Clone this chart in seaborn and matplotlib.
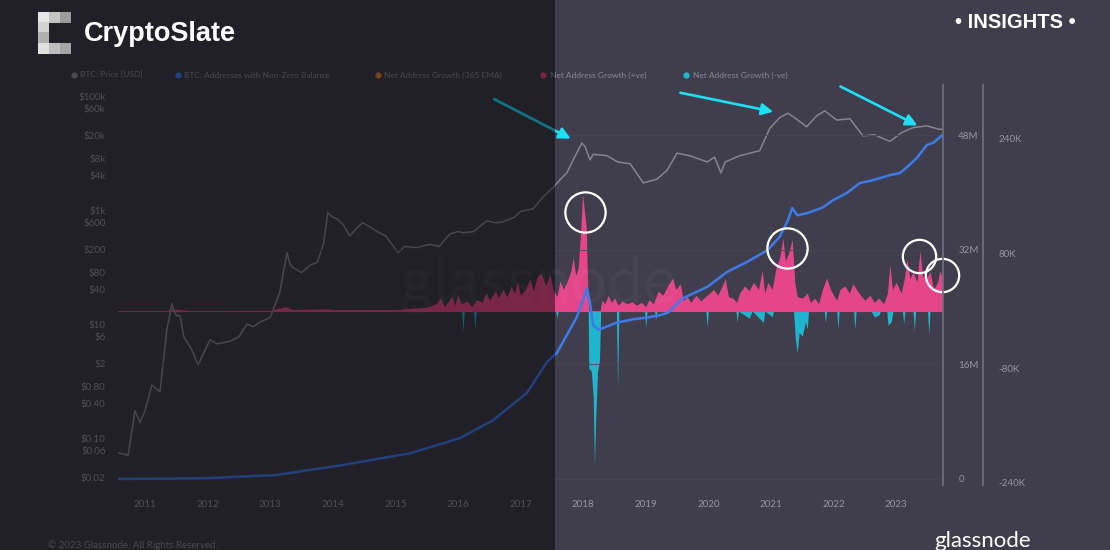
import numpy as np
import pandas as pd
import matplotlib.pyplot as plt
import seaborn as sns
from matplotlib.patches import Rectangle
from matplotlib.lines import Line2D
from matplotlib.ticker import NullLocator

# BTC price in USD (decimal year, price)
price_year = [2010.57, 2010.73, 2010.84, 2010.92, 2011.0, 2011.11, 2011.24, 2011.35, 2011.43, 2011.47,
              2011.51, 2011.56, 2011.62, 2011.75, 2011.85, 2011.93, 2012.04, 2012.15, 2012.36, 2012.5,
              2012.63, 2012.73, 2012.85, 2013.0, 2013.15, 2013.27, 2013.31, 2013.35, 2013.5, 2013.65,
              2013.75, 2013.85, 2013.92, 2014.0, 2014.07, 2014.17, 2014.27, 2014.38, 2014.48, 2014.6,
              2014.71, 2014.85, 2015.04, 2015.15, 2015.34, 2015.55, 2015.7, 2015.87, 2016.0, 2016.08,
              2016.25, 2016.46, 2016.6, 2016.72, 2016.9, 2017.0, 2017.1, 2017.2, 2017.36, 2017.52,
              2017.63, 2017.74, 2017.84, 2017.98, 2018.03, 2018.11, 2018.16, 2018.38, 2018.55, 2018.75,
              2018.96, 2019.18, 2019.34, 2019.5, 2019.7, 2019.98, 2020.1, 2020.2, 2020.27, 2020.5,
              2020.82, 2020.98, 2021.14, 2021.27, 2021.4, 2021.57, 2021.73, 2021.86, 2022.05, 2022.26,
              2022.47, 2022.65, 2022.9, 2023.09, 2023.27, 2023.49, 2023.7, 2023.74]
price_usd = [0.055, 0.05, 0.30, 0.19, 0.30, 0.85, 0.65, 8, 23, 16,
             14, 14, 6, 3.5, 1.9, 3, 5.3, 4.5, 5, 6,
             10, 9, 11, 13, 35, 180, 120, 100, 80, 110,
             120, 250, 900, 750, 700, 550, 350, 480, 600, 500,
             420, 350, 180, 230, 220, 250, 230, 380, 420, 400,
             420, 650, 600, 620, 750, 950, 1000, 1050, 1700, 2500,
             3400, 4500, 7600, 15000, 13000, 7600, 9500, 9000, 7000, 6500,
             3000, 3500, 5000, 10000, 9000, 7000, 8500, 4500, 7000, 9000,
             11000, 27000, 42000, 50000, 40000, 29000, 45000, 55000, 38000, 40000,
             20000, 21000, 16000, 23000, 28000, 30000, 26000, 26500]

# BTC addresses with non-zero balance, millions
addr_year = [2010.57, 2011.5, 2012.04, 2013.1, 2014.16, 2015.24, 2016.03, 2016.56, 2017.1, 2017.31,
             2017.42, 2017.58, 2017.9, 2018.06, 2018.11, 2018.16, 2018.24, 2018.53, 2018.8, 2019.0,
             2019.2, 2019.35, 2019.59, 2019.98, 2020.3, 2020.62, 2020.94, 2021.14, 2021.27, 2021.34,
             2021.42, 2021.58, 2021.83, 2021.99, 2022.21, 2022.42, 2022.63, 2022.9, 2023.06, 2023.17,
             2023.33, 2023.49, 2023.59, 2023.74]
addr_m = [0, 0.05, 0.14, 0.56, 1.95, 3.6, 5.7, 8.2, 12.0, 14.8,
          16.3, 17.6, 22.6, 26.6, 24.5, 21.5, 20.8, 21.8, 22.3, 22.5,
          22.8, 23.2, 25.2, 26.8, 28.9, 30.3, 31.9, 33.8, 36.1, 37.8,
          36.8, 37.1, 37.9, 38.9, 39.9, 41.3, 41.7, 42.4, 42.7, 43.5,
          44.8, 46.6, 46.9, 48.0]

# Net address growth, positive part (thousands)
pos_year = [2010.57, 2011.35, 2011.4, 2011.55, 2011.7, 2012.0, 2013.0, 2013.25, 2013.35, 2013.9,
            2014.0, 2014.5, 2015.0, 2015.3, 2015.5, 2015.65, 2015.72, 2015.78, 2015.9, 2015.95,
            2016.0, 2016.05, 2016.15, 2016.22, 2016.3, 2016.38, 2016.45, 2016.5, 2016.6, 2016.65,
            2016.72, 2016.78, 2016.85, 2016.9, 2016.95, 2017.0, 2017.08, 2017.15, 2017.2, 2017.27,
            2017.33, 2017.4, 2017.47, 2017.52, 2017.58, 2017.63, 2017.68, 2017.74, 2017.8, 2017.84,
            2017.88, 2017.92, 2017.96, 2017.99, 2018.02, 2018.05, 2018.07, 2018.09, 2018.27, 2018.3,
            2018.35, 2018.4, 2018.45, 2018.5, 2018.56, 2018.62, 2018.7, 2018.78, 2018.85, 2018.93,
            2019.0, 2019.05, 2019.12, 2019.2, 2019.27, 2019.35, 2019.43, 2019.48, 2019.55, 2019.6,
            2019.66, 2019.72, 2019.8, 2019.88, 2019.95, 2020.02, 2020.08, 2020.15, 2020.22, 2020.27,
            2020.32, 2020.39, 2020.45, 2020.5, 2020.58, 2020.65, 2020.72, 2020.8, 2020.86, 2020.9,
            2020.95, 2021.02, 2021.08, 2021.14, 2021.19, 2021.23, 2021.28, 2021.34, 2021.38, 2021.42,
            2021.5, 2021.58, 2021.63, 2021.7, 2021.76, 2021.82, 2021.89, 2021.95, 2022.0, 2022.05,
            2022.1, 2022.18, 2022.25, 2022.31, 2022.38, 2022.45, 2022.5, 2022.58, 2022.65, 2022.72,
            2022.8, 2022.86, 2022.9, 2022.94, 2023.0, 2023.08, 2023.14, 2023.17, 2023.22, 2023.27,
            2023.33, 2023.38, 2023.42, 2023.48, 2023.54, 2023.6, 2023.66, 2023.7, 2023.74]
pos_k = [0, 0, 3, 2, 0.5, 0.5, 1, 6, 2, 3,
         2, 2, 2, 4, 5, 10, 18, 6, 20, 8,
         23, 10, 14, 6, 16, 12, 25, 15, 28, 18,
         30, 20, 35, 25, 40, 22, 30, 45, 28, 48,
         53, 35, 51, 30, 20, 42, 30, 40, 55, 74,
         50, 60, 110, 163, 140, 115, 40, 0, 0, 15,
         10, 22, 12, 18, 8, 14, 10, 13, 8, 12,
         6, 16, 10, 28, 22, 35, 46, 30, 38, 15,
         20, 12, 22, 14, 20, 25, 30, 22, 35, 45,
         20, 18, 12, 25, 35, 28, 40, 30, 56, 25,
         40, 30, 60, 75, 102, 70, 80, 100, 40, 20,
         18, 25, 12, 18, 10, 30, 46, 30, 22, 15,
         30, 35, 25, 38, 28, 20, 15, 22, 12, 18,
         10, 25, 65, 30, 40, 25, 50, 72, 45, 55,
         40, 84, 50, 45, 55, 30, 40, 56, 45]

# Net address growth, negative part (thousands)
neg_year = [2010.57, 2016.06, 2016.08, 2016.1, 2016.25, 2016.27, 2016.29, 2017.56, 2017.58, 2017.6,
            2018.08, 2018.09, 2018.13, 2018.16, 2018.18, 2018.2, 2018.23, 2018.26, 2018.28, 2018.53,
            2018.55, 2018.57, 2018.98, 2019.0, 2019.02, 2019.14, 2019.16, 2019.18, 2019.96, 2019.98,
            2020.0, 2020.44, 2020.46, 2020.48, 2020.65, 2020.7, 2020.88, 2020.9, 2021.02, 2021.04,
            2021.36, 2021.39, 2021.42, 2021.45, 2021.5, 2021.55, 2021.58, 2021.6, 2021.85, 2021.87,
            2021.89, 2022.05, 2022.07, 2022.09, 2022.32, 2022.34, 2022.36, 2022.6, 2022.65, 2022.72,
            2022.75, 2022.85, 2022.87, 2022.92, 2022.95, 2023.1, 2023.12, 2023.14, 2023.27, 2023.29,
            2023.31, 2023.5, 2023.52, 2023.54, 2023.74]
neg_k = [0, 0, -28, 0, 0, -26, 0, 0, -10, 0,
         0, -80, -84, -120, -215, -150, -84, -70, 0, 0,
         -107, 0, 0, -23, 0, 0, -12, 0, 0, -22,
         0, 0, -16, 0, -10, 0, -16, 0, -8, 0,
         0, -40, -58, -30, -35, -15, -25, 0, 0, -16,
         0, 0, -25, 0, 0, -25, 0, 0, -8, -6,
         0, 0, -20, -15, 0, 0, -18, 0, 0, -28,
         0, 0, -33, 0, 0]

# axis ticks
years = list(range(2011, 2024))
price_ticks = [100000, 60000, 20000, 8000, 4000, 1000, 600, 200, 80, 40, 10, 6, 2, 0.8, 0.4, 0.1, 0.06, 0.02]
price_labels = ["$100k", "$60k", "$20k", "$8k", "$4k", "$1k", "$600", "$200", "$80", "$40",
                "$10", "$6", "$2", "$0.80", "$0.40", "$0.10", "$0.06", "$0.02"]
addr_ticks = [0, 16, 32, 48]
addr_labels = ["0", "16M", "32M", "48M"]
growth_ticks = [-240, -80, 80, 240]
growth_labels = ["-240K", "-80K", "80K", "240K"]

# highlight annotations (circles on growth axis, arrows on price axis)
circle_year = [2018.03, 2021.26, 2023.36, 2023.73]
circle_k = [138, 88, 77, 50]
circle_size = [29, 29, 24, 24]
arrow_tail = [(2016.54, 93000), (2019.51, 117000), (2022.07, 155000)]
arrow_head = [(2017.84, 17000), (2021.08, 52000), (2023.38, 29000)]

BG = "#403e4c"
PRICE_C = "#8a8292"
ADDR_C = "#3d7bea"
POS_C = "#e5468a"
NEG_C = "#1fb5cf"
TICK_C = "#9794a3"

sns.set_theme(style="dark", rc={"figure.facecolor": BG, "axes.facecolor": "none"})
plt.rcParams["font.family"] = ["Lato", "DejaVu Sans"]

W, H = 1110, 550
fig = plt.figure(figsize=(W / 100, H / 100), dpi=100)
ax = fig.add_axes([118 / W, 65 / H, 825 / W, 400 / H])
ax2 = ax.twinx()
ax3 = ax.twinx()
ax3.set_zorder(1)
ax.set_zorder(2)
ax2.set_zorder(3)
for a in (ax, ax2, ax3):
    a.patch.set_visible(False)
    for s in a.spines.values():
        s.set_visible(False)

# net address growth
ax3.fill_between(pos_year, 0, pos_k, color=POS_C, linewidth=0)
ax3.fill_between(neg_year, 0, neg_k, color=NEG_C, linewidth=0)
ax3.axhline(0, color=POS_C, lw=0.8)

# price and addresses
price_df = pd.DataFrame({"year": price_year, "price": price_usd})
addr_df = pd.DataFrame({"year": addr_year, "addr": addr_m})
ax.set_yscale("log")
sns.lineplot(data=price_df, x="year", y="price", ax=ax, color=PRICE_C, linewidth=1.1)
sns.lineplot(data=addr_df, x="year", y="addr", ax=ax2, color=ADDR_C, linewidth=1.8)

ax.set_xlim(2010.569, 2023.748)
ax.set_ylim(0.01503, 156500)
ax2.set_ylim(-0.84, 54.98)
ax3.set_ylim(-242.8, 315.3)
for a in (ax, ax2, ax3):
    a.set_xlabel("")
    a.set_ylabel("")

ax.set_xticks(years)
ax.set_xticklabels([str(y) for y in years])
ax.set_yticks(price_ticks)
ax.set_yticklabels(price_labels)
ax.yaxis.set_minor_locator(NullLocator())
ax.tick_params(axis="both", length=0, labelsize=7, labelcolor=TICK_C)
ax.tick_params(axis="y", pad=9)
ax.tick_params(axis="x", pad=11)

ax2.set_yticks(addr_ticks)
ax2.set_yticklabels(addr_labels)
ax2.tick_params(axis="y", length=0, pad=11, labelsize=7, labelcolor=TICK_C)
ax2.spines["right"].set_visible(True)
ax2.spines["right"].set_color("#716e80")
ax2.yaxis.grid(True, color="#474555", lw=0.6)

ax3.set_yticks(growth_ticks)
ax3.set_yticklabels(growth_labels)
ax3.tick_params(axis="y", length=0, pad=11, labelsize=7, labelcolor=TICK_C)
ax3.spines["right"].set_visible(True)
ax3.spines["right"].set_position(("axes", 1 + 40 / 825))
ax3.spines["right"].set_color("#716e80")

# watermark
ax.text(0.51, 0.5, "glassnode", transform=ax.transAxes, fontsize=46, color="white",
        alpha=0.035, ha="center", va="center")

# circles and arrows
for cx, cy, cs in zip(circle_year, circle_k, circle_size):
    ax2.plot([cx], [cy], marker="o", ms=cs, mfc="none", mec="white", mew=1.6,
             transform=ax3.transData, clip_on=False)
for (tx, ty), (hx, hy) in zip(arrow_tail, arrow_head):
    ax2.annotate("", xy=(hx, hy), xycoords=ax.transData, xytext=(tx, ty), textcoords=ax.transData,
                 arrowprops=dict(arrowstyle="-|>", color="#1ee0f5", lw=1.9, mutation_scale=17),
                 annotation_clip=False)

# legend row
legend_items = [(74, 80, "#8c8998", "BTC: Price [USD]"),
                (178, 184, ADDR_C, "BTC: Addresses with Non-Zero Balance"),
                (378, 384, "#e07a3c", "Net Address Growth (365 EMA)"),
                (543, 550, POS_C, "Net Address Growth (+ve)"),
                (686, 693, NEG_C, "Net Address Growth (-ve)")]
ly = 1 - 75 / H
for dx, tx, c, label in legend_items:
    fig.add_artist(Line2D([dx / W], [ly], marker="o", ms=3.5, color=c, lw=0, transform=fig.transFigure))
    fig.text(tx / W, ly, label, fontsize=6, color="#8a8796", va="center", ha="left")

fig.text(48 / W, 5 / H, "\u00a9 2023 Glassnode. All Rights Reserved.", fontsize=7, color="#8a8796",
         va="center", ha="left")

# darker left half
fig.add_artist(Rectangle((0, 0), 555 / W, 1, transform=fig.transFigure, facecolor="black",
                         alpha=0.47, linewidth=0, zorder=5))

# header
logo = [(38, 12, "#e6e6e6"), (49, 12, "#c4c4c4"), (60, 12, "#9c9c9c"),
        (38, 22, "#d2d2d2"), (38, 32, "#b0b0b0"),
        (38, 43, "#e0e0e0"), (49, 43, "#bdbdbd"), (60, 43, "#a5a5a5")]
for x0, y0, c in logo:
    fig.add_artist(Rectangle((x0 / W, 1 - (y0 + 10.5) / H), 11 / W, 10.5 / H,
                             transform=fig.transFigure, facecolor=c, linewidth=0, zorder=10))
fig.text(84 / W, 1 - 34 / H, "CryptoSlate", fontsize=19.5, fontweight="bold", color="white",
         family=["Liberation Sans", "DejaVu Sans"], va="center", ha="left", zorder=10)
fig.text(1015 / W, 1 - 22 / H, "\u2022 INSIGHTS \u2022", fontsize=14.5, fontweight="bold", color="white",
         family=["Liberation Sans", "DejaVu Sans"], va="center", ha="center", zorder=10)
fig.text(983 / W, 1 - 541 / H, "glassnode", fontsize=16, color="white", va="center", ha="center",
         zorder=10)

fig.savefig("out.png", dpi=100, facecolor=BG)
